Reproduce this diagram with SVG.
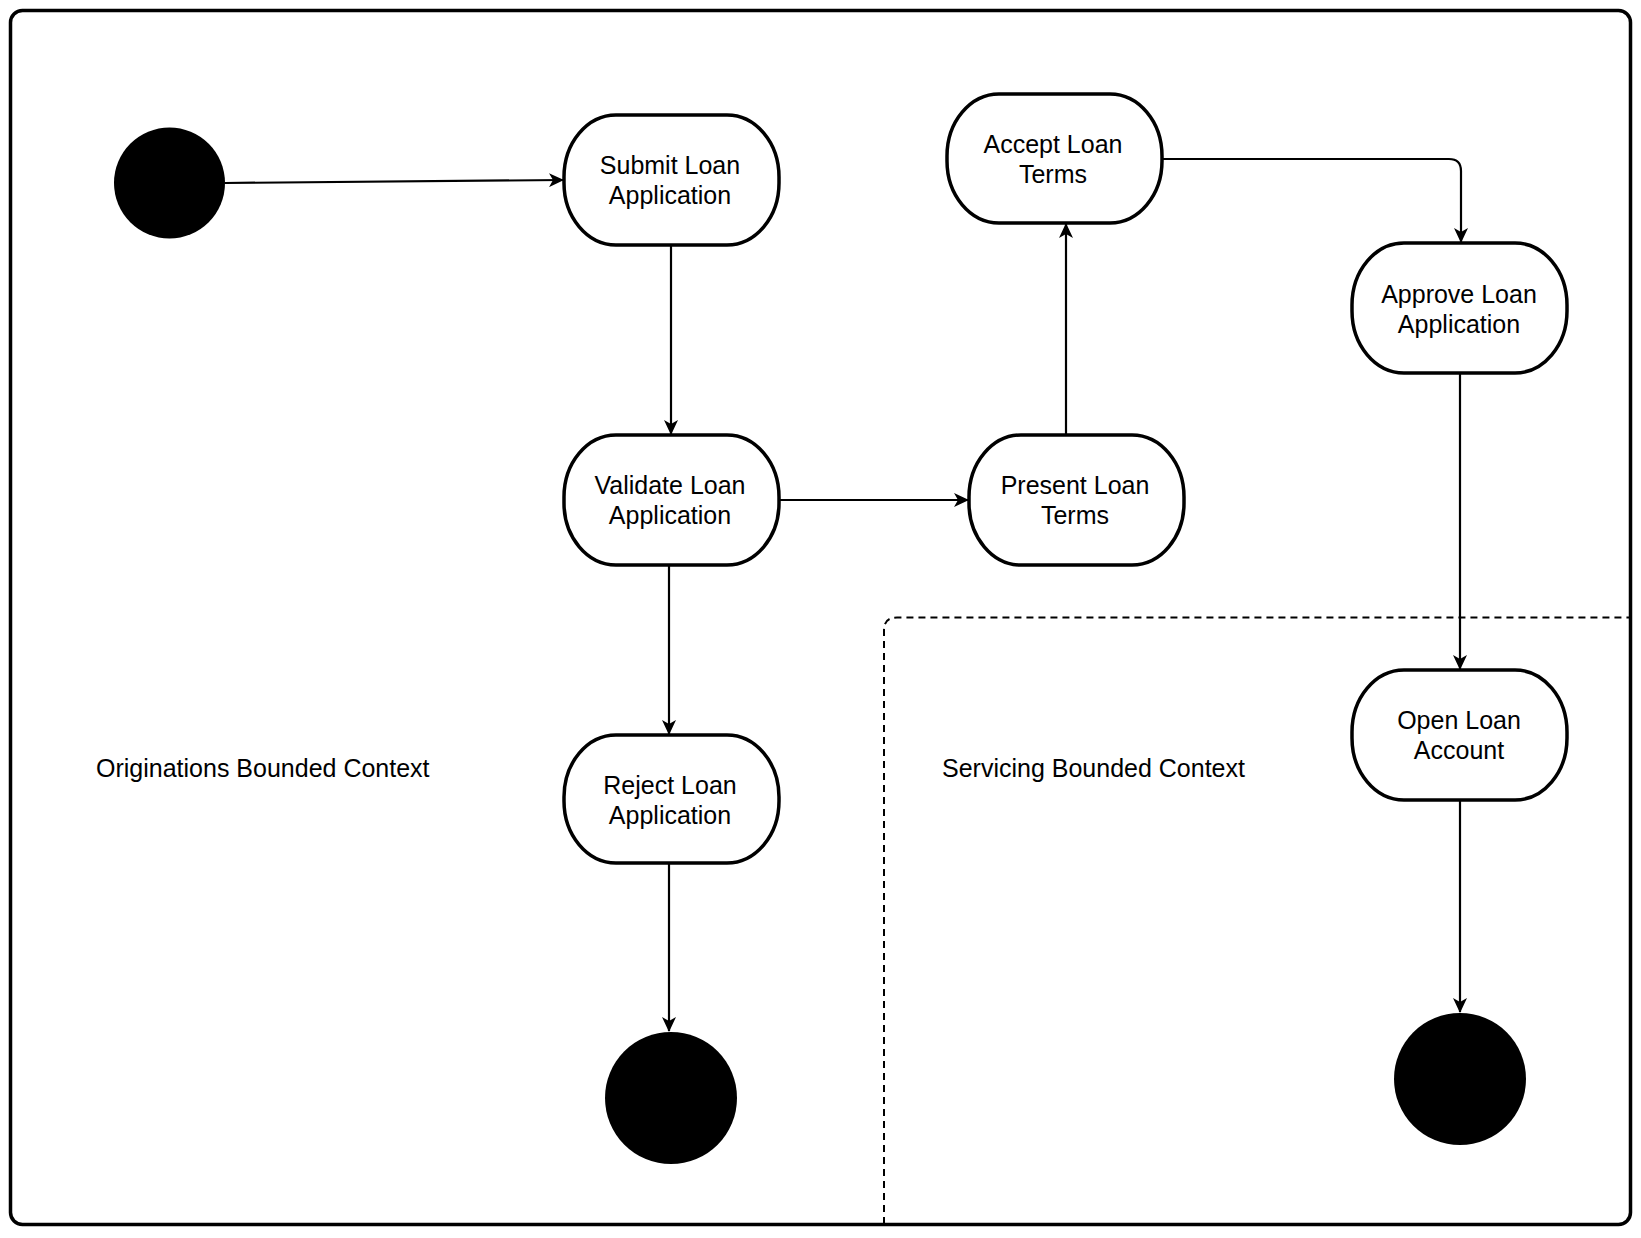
<svg xmlns="http://www.w3.org/2000/svg" width="1641" height="1238" viewBox="0 0 1641 1238">
<style>
.node{fill:#fff;stroke:#000;stroke-width:3.5}
.term{fill:#000}
.lbl{font-family:"Liberation Sans",Arial,sans-serif;font-size:25px;fill:#000;text-anchor:middle}
.ctx{font-family:"Liberation Sans",Arial,sans-serif;font-size:25px;fill:#000}
.edge{fill:none;stroke:#000;stroke-width:2.2;marker-end:url(#arr)}
</style>
<defs>
<marker id="arr" viewBox="0 0 15 14" refX="14" refY="7" markerWidth="15" markerHeight="14" markerUnits="userSpaceOnUse" orient="auto">
<path d="M0,0 L15,7 L0,14 L4,7 z" fill="#000"/>
</marker>
</defs>
<rect width="1641" height="1238" fill="#fff"/>
<g id="originations">
<rect x="10.5" y="10.5" width="1620" height="1214" rx="12" fill="none" stroke="#000" stroke-width="3.5"/>
<text class="ctx" x="96" y="777">Originations Bounded Context</text>
</g>
<g id="servicing">
<path d="M884,1224 L884,630 Q884,617.5 897,617.5 L1630,617.5" fill="none" stroke="#000" stroke-width="2" stroke-dasharray="7,5"/>
<text class="ctx" x="942" y="777">Servicing Bounded Context</text>
</g>
<g id="connectors">
<path class="edge" d="M225,183 L563,180"/>
<path class="edge" d="M671,245 L671,434"/>
<path class="edge" d="M779,500 L968,500"/>
<path class="edge" d="M669,565 L669,734"/>
<path class="edge" d="M669,863 L669,1031"/>
<path class="edge" d="M1066,435 L1066,224"/>
<path class="edge" d="M1162,159 L1449,159 Q1461,159 1461,171 L1461,242"/>
<path class="edge" d="M1460,373 L1460,669"/>
<path class="edge" d="M1460,800 L1460,1012"/>
</g>
<g id="start"><circle class="term" cx="169.5" cy="183" r="55.5"/></g>
<g id="submit">
<rect class="node" x="564" y="115" width="215" height="130" rx="52" ry="62"/>
<text class="lbl" x="670" y="174">Submit Loan</text>
<text class="lbl" x="670" y="204">Application</text>
</g>
<g id="validate">
<rect class="node" x="564" y="435" width="215" height="130" rx="52" ry="62"/>
<text class="lbl" x="670" y="494">Validate Loan</text>
<text class="lbl" x="670" y="524">Application</text>
</g>
<g id="reject">
<rect class="node" x="564" y="735" width="215" height="128" rx="52" ry="62"/>
<text class="lbl" x="670" y="794">Reject Loan</text>
<text class="lbl" x="670" y="824">Application</text>
</g>
<g id="end1"><circle class="term" cx="671" cy="1098" r="66"/></g>
<g id="present">
<rect class="node" x="969" y="435" width="215" height="130" rx="52" ry="62"/>
<text class="lbl" x="1075" y="494">Present Loan</text>
<text class="lbl" x="1075" y="524">Terms</text>
</g>
<g id="accept">
<rect class="node" x="947" y="94" width="215" height="129" rx="52" ry="62"/>
<text class="lbl" x="1053" y="153">Accept Loan</text>
<text class="lbl" x="1053" y="183">Terms</text>
</g>
<g id="approve">
<rect class="node" x="1352" y="243" width="215" height="130" rx="52" ry="62"/>
<text class="lbl" x="1459" y="303">Approve Loan</text>
<text class="lbl" x="1459" y="333">Application</text>
</g>
<g id="open">
<rect class="node" x="1352" y="670" width="215" height="130" rx="52" ry="62"/>
<text class="lbl" x="1459" y="729">Open Loan</text>
<text class="lbl" x="1459" y="759">Account</text>
</g>
<g id="end2"><circle class="term" cx="1460" cy="1079" r="66"/></g>
</svg>
